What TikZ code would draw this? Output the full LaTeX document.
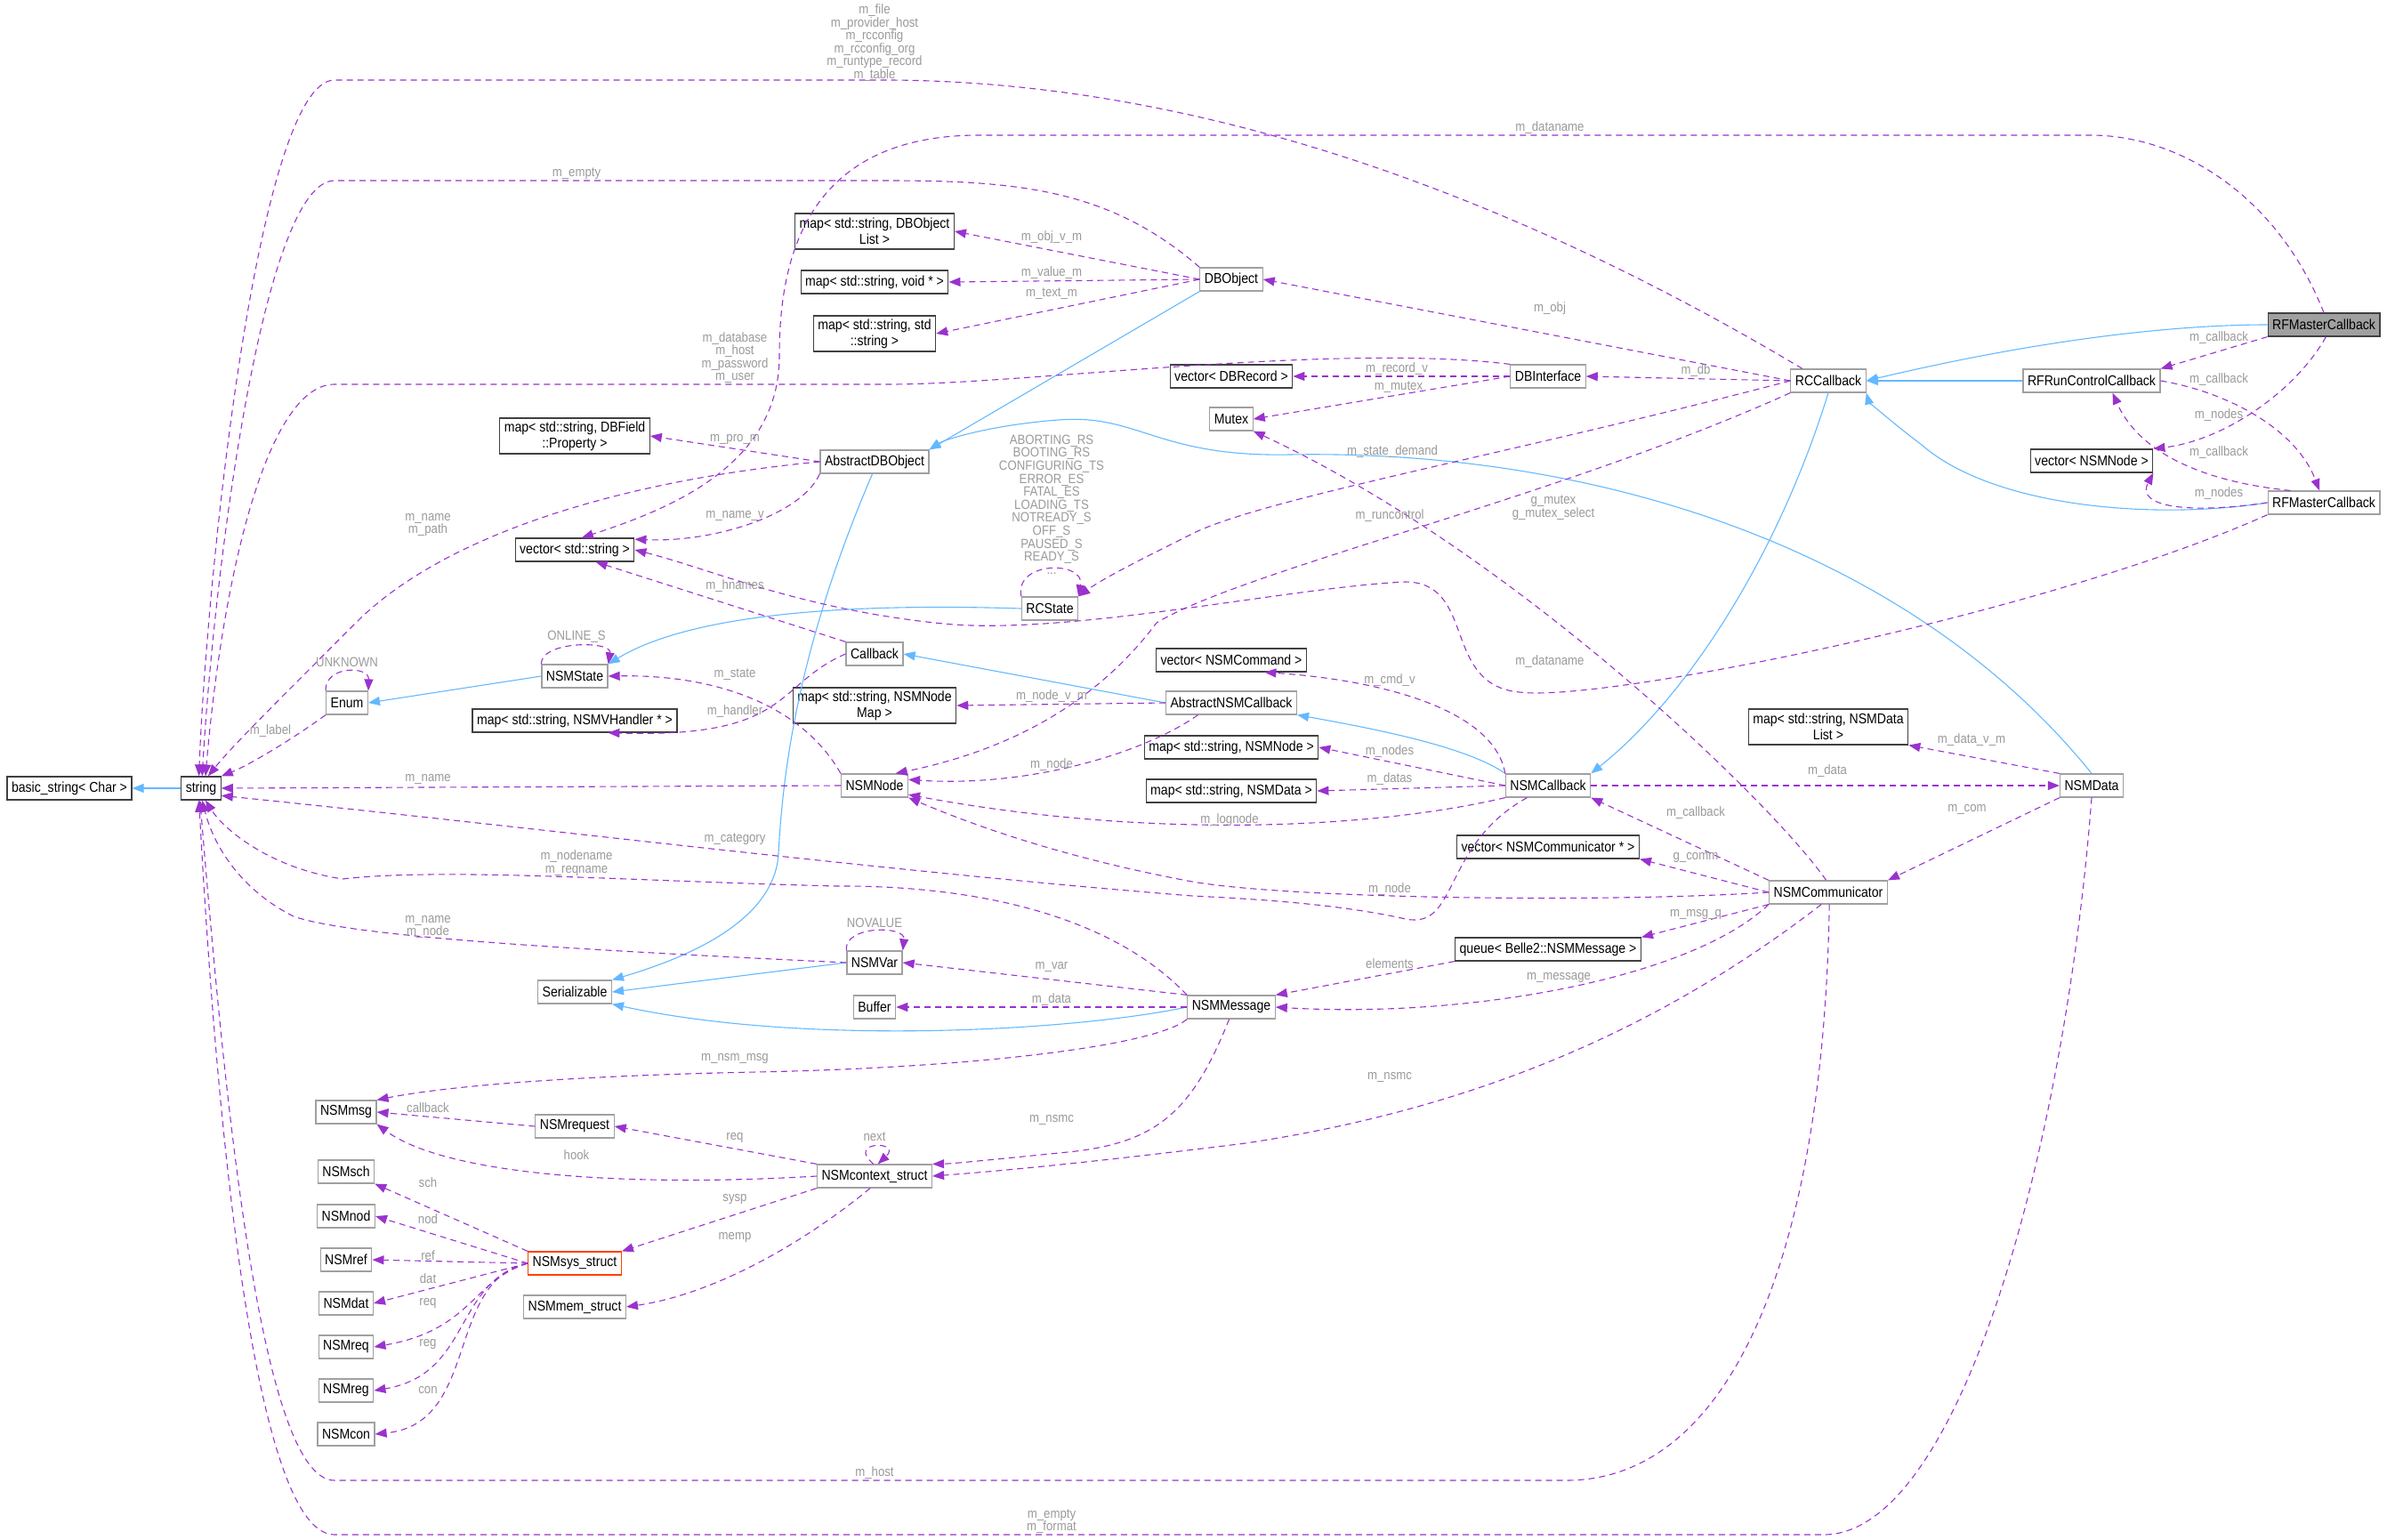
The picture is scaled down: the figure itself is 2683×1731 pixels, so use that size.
\documentclass[tikz,border=0pt]{standalone}
\usepackage{fontspec}
\setmainfont[FakeStretch=0.88]{Liberation Sans}
\usetikzlibrary{arrows.meta}
\definecolor{dep}{HTML}{9A32CD}
\definecolor{inhc}{HTML}{63B8FF}
\definecolor{lblc}{HTML}{9A9A9A}
\definecolor{bgray}{HTML}{A0A0A0}
\definecolor{bdark}{HTML}{404040}
\begin{document}
\begin{tikzpicture}[x=1pt,y=-1pt,
 cls/.style={draw=bgray,line width=1.2pt,fill=white,inner xsep=5pt,inner ysep=0pt,minimum height=26pt,font=\fontsize{16}{18}\selectfont,align=center},
 tpl/.style={cls,draw=bdark},
 two/.style={minimum height=40pt},
 lbl/.style={text=lblc,font=\fontsize{15}{14.6}\selectfont,align=center,inner sep=0pt},
 dep/.style={draw=dep,line width=1.1pt,dash pattern=on 7pt off 5pt,-{Triangle[length=13pt,width=10pt,fill=dep]}},
 inh/.style={draw=inhc,line width=1.1pt,-{Triangle[length=13pt,width=10pt,fill=inhc]}}]
\useasboundingbox (0,0) rectangle (2683,1731);
% nodes
\node[tpl] (bs) at (78,886) {basic\_string< Char >};
\node[tpl] (str) at (226,886) {string};
\node[tpl,two] (mDBOL) at (983,260) {map< std::string, DBObject\\List >};
\node[tpl] (mvoid) at (983,317) {map< std::string, void * >};
\node[tpl,two] (mstr) at (983,375) {map< std::string, std\\::string >};
\node[tpl,two] (mdbf) at (646,490) {map< std::string, DBField\\::Property >};
\node[cls] (adbo) at (983,519) {AbstractDBObject};
\node[tpl] (vstr) at (646,618) {vector< std::string >};
\node[cls] (rcstate) at (1180,684) {RCState};
\node[cls] (nsmstate) at (646,760) {NSMState};
\node[cls] (callback) at (983,735) {Callback};
\node[cls] (enum) at (390,790) {Enum};
\node[tpl] (mvh) at (646,810) {map< std::string, NSMVHandler * >};
\node[tpl,two] (mnnm) at (983,793) {map< std::string, NSMNode\\Map >};
\node[cls] (nsmnode) at (983,883) {NSMNode};
\node[cls] (nsmvar) at (983,1082) {NSMVar};
\node[cls] (serial) at (646,1115) {Serializable};
\node[cls] (buffer) at (983,1132) {Buffer};
\node[cls] (nsmmsg) at (389,1250) {NSMmsg};
\node[cls] (nsmreq) at (646,1266) {NSMrequest};
\node[cls] (ctx) at (983,1322) {NSMcontext\_struct};
\node[cls] (sch) at (389,1317) {NSMsch};
\node[cls] (nod) at (389,1367) {NSMnod};
\node[cls] (ref) at (389,1416) {NSMref};
\node[cls] (dat) at (389,1465) {NSMdat};
\node[cls] (req) at (389,1514) {NSMreq};
\node[cls] (reg) at (389,1563) {NSMreg};
\node[cls] (con) at (389,1612) {NSMcon};
\node[cls,draw={rgb,255:red,255;green,64;blue,0}] (sys) at (646,1420) {NSMsys\_struct};
\node[cls] (mem) at (646,1469) {NSMmem\_struct};
\node[cls] (dbobj) at (1384,314) {DBObject};
\node[cls] (rccb) at (2055,428) {RCCallback};
\node[cls,fill=bgray,draw=bdark] (rfmtop) at (2612,365) {RFMasterCallback};
\node[cls] (rfrc) at (2351,428) {RFRunControlCallback};
\node[cls] (dbi) at (1740,423) {DBInterface};
\node[tpl] (vdbr) at (1384,423) {vector< DBRecord >};
\node[cls] (mutex) at (1384,471) {Mutex};
\node[tpl] (vnode) at (2351,518) {vector< NSMNode >};
\node[cls] (rfmbot) at (2612,565) {RFMasterCallback};
\node[tpl] (vcmd) at (1384,742) {vector< NSMCommand >};
\node[cls] (ansm) at (1384,790) {AbstractNSMCallback};
\node[tpl] (mnode) at (1384,840) {map< std::string, NSMNode >};
\node[tpl,two] (mndl) at (2055,817) {map< std::string, NSMData\\List >};
\node[cls] (nsmcb) at (1740,883) {NSMCallback};
\node[cls] (nsmdata) at (2351,883) {NSMData};
\node[tpl] (mndata) at (1384,889) {map< std::string, NSMData >};
\node[tpl] (vcomm) at (1740,952) {vector< NSMCommunicator * >};
\node[cls] (comm) at (2055,1003) {NSMCommunicator};
\node[tpl] (queue) at (1740,1067) {queue< Belle2::NSMMessage >};
\node[cls] (msg) at (1384,1132) {NSMMessage};
% inheritance
\draw[inh] (str) -- (bs);
\draw[inh] (nsmstate.west) -- (enum.east);
\draw[inh] (rcstate.west) .. controls (900,676) and (760,700) .. (nsmstate.north east);
\draw[inh] (adbo.-100) .. controls (900,720) and (880,860) .. (875,960) .. controls (870,1040) and (760,1080) .. (serial.north east);
\draw[inh] (dbobj.south west) -- (adbo.north east);
\draw[inh] (nsmdata.north) .. controls (2150,620) and (1800,505) .. (1450,511) .. controls (1300,514) and (1280,465) .. (1190,472) .. controls (1110,478) and (1060,495) .. (adbo.north east);
\draw[inh] (nsmvar.west) -- (serial.east);
\draw[inh] (msg.west) .. controls (1200,1160) and (900,1175) .. (serial.south east);
\draw[inh] (ansm.west) -- (callback.east);
\draw[inh] (nsmcb.north west) .. controls (1650,840) and (1550,820) .. (ansm.south east);
\draw[inh] (rccb.south) .. controls (2000,620) and (1900,780) .. (nsmcb.north east);
\draw[inh] (rfmtop.west) .. controls (2450,365) and (2300,380) .. (rccb.east);
\draw[inh] (rfrc) -- (rccb);
\draw[inh] (rfmbot.west) .. controls (2420,585) and (2240,570) .. (2160,500) .. controls (2120,470) and (2100,450) .. (rccb.south east);
% dependencies
\draw[dep] (rccb.155) .. controls (1700,220) and (1350,92) .. (1000,90) -- (376,90) .. controls (290,90) and (232,650) .. (str.100);
\draw[dep] (dbobj.north west) .. controls (1250,215) and (1150,203) .. (1000,203) -- (376,203) .. controls (295,203) and (240,650) .. (str.85);
\draw[dep] (dbi.north west) .. controls (1500,385) and (1150,432) .. (1000,432) -- (376,432) .. controls (300,432) and (250,650) .. (str.70);
\draw[dep] (rfmtop.north) .. controls (2560,220) and (2450,152) .. (2350,152) -- (1100,152) .. controls (900,152) and (876,300) .. (876,400) .. controls (876,520) and (760,570) .. (vstr.60);
\draw[dep] (dbobj.west) -- (mDBOL.east);
\draw[dep] (dbobj.west) -- (mvoid.east);
\draw[dep] (dbobj.west) -- (mstr.east);
\draw[dep] (rccb.west) -- (dbobj.east);
\draw[dep] (rccb.west) -- (dbi.east);
\draw[dep] (dbi.west) -- (vdbr.east);
\draw[dep] (dbi.west) -- (mutex.east);
\draw[dep] (rccb.west) .. controls (1700,510) and (1420,560) .. (1340,600) .. controls (1280,630) and (1240,650) .. (rcstate.north east);
\draw[dep] (rccb.south west) .. controls (1750,560) and (1400,640) .. (1300,700) .. controls (1240,780) and (1150,840) .. (nsmnode.30);
\draw[dep] (rfmbot.south west) .. controls (2300,690) and (1800,790) .. (1708,778) .. controls (1620,770) and (1660,655) .. (1580,654) .. controls (1450,660) and (1200,715) .. (1060,701) .. controls (900,685) and (800,640) .. (vstr.east);
\draw[dep] (adbo.west) -- (mdbf.east);
\draw[dep] (adbo.west) .. controls (700,540) and (500,600) .. (400,700) .. controls (300,800) and (260,840) .. (str.60);
\draw[dep] (adbo.south west) .. controls (900,580) and (800,610) .. (vstr.10);
\draw[dep] (callback.north west) -- (vstr.-30);
\draw[dep] (rcstate.north west) .. controls (1140,630) and (1220,630) .. (rcstate.north east);
\draw[dep] (nsmstate.north west) .. controls (608,720) and (688,720) .. (nsmstate.north east);
\draw[dep] (enum.north west) .. controls (365,748) and (415,748) .. (enum.north east);
\draw[dep] (nsmvar.north west) .. controls (948,1040) and (1018,1040) .. (nsmvar.north east);
\draw[dep] (ctx.95) .. controls (950,1282) and (1015,1282) .. (ctx.75);
\draw[dep] (enum.south west) .. controls (330,830) and (280,860) .. (str.north east);
\draw[dep] (nsmnode.north west) .. controls (900,790) and (800,758) .. (nsmstate.east);
\draw[dep] (callback.west) .. controls (870,770) and (890,830) .. (mvh.-20);
\draw[dep] (ansm.west) -- (mnnm.east);
\draw[dep] (ansm.-160) .. controls (1280,850) and (1150,885) .. (nsmnode.10);
\draw[dep] (nsmnode.west) -- (str.east);
\draw[dep] (nsmcb.north west) .. controls (1680,800) and (1560,765) .. (vcmd.-20);
\draw[dep] (nsmcb.west) -- (mnode.east);
\draw[dep] (nsmcb.west) -- (mndata.east);
\draw[dep] (nsmcb.south west) .. controls (1550,930) and (1300,945) .. (nsmnode.-15);
\draw[dep] (nsmcb.east) -- (nsmdata.west);
\draw[dep] (nsmcb.-150) .. controls (1620,950) and (1640,1045) .. (1580,1033) .. controls (1500,1015) and (1400,1010) .. (1340,1007) .. controls (1000,980) and (600,930) .. (str.-20);
\draw[dep] (comm.west) .. controls (1800,1015) and (1450,1010) .. (1340,991) .. controls (1200,965) and (1100,930) .. (nsmnode.south east);
\draw[dep] (comm.north west) -- (nsmcb.south east);
\draw[dep] (comm.west) -- (vcomm.south east);
\draw[dep] (comm.south west) -- (queue.north east);
\draw[dep] (queue.south west) -- (msg.north east);
\draw[dep] (comm.south west) .. controls (1900,1100) and (1650,1145) .. (msg.east);
\draw[dep] (comm.-120) .. controls (1900,1130) and (1700,1240) .. (1400,1285) .. controls (1200,1310) and (1100,1318) .. (ctx.east);
\draw[dep] (comm.100) .. controls (1990,900) and (1700,620) .. (mutex.south east);
\draw[dep] (comm.-85) .. controls (2050,1400) and (1950,1664) .. (1760,1664) -- (376,1664) .. controls (290,1664) and (250,1200) .. (str.-95);
\draw[dep] (nsmdata.south) .. controls (2320,1300) and (2200,1725) .. (2050,1725) -- (376,1725) .. controls (280,1725) and (240,1200) .. (str.-100);
\draw[dep] (nsmdata.south west) -- (comm.north east);
\draw[dep] (nsmdata.north west) -- (mndl.south east);
\draw[dep] (msg.north west) .. controls (1250,1030) and (1100,995) .. (940,996) .. controls (700,990) and (500,975) .. (385,988) .. controls (300,975) and (250,930) .. (str.-70);
\draw[dep] (nsmvar.west) .. controls (700,1070) and (400,1055) .. (330,1030) .. controls (270,1000) and (240,950) .. (str.-85);
\draw[dep] (msg.north west) -- (nsmvar.east);
\draw[dep] (msg.west) -- (buffer.east);
\draw[dep] (msg.south west) .. controls (1300,1175) and (1100,1200) .. (850,1205) .. controls (600,1210) and (480,1225) .. (nsmmsg.north east);
\draw[dep] (msg.-100) .. controls (1340,1250) and (1300,1285) .. (1200,1295) .. controls (1100,1305) and (1070,1308) .. (ctx.north east);
\draw[dep] (nsmreq.west) -- (nsmmsg.east);
\draw[dep] (ctx.west) .. controls (700,1335) and (500,1320) .. (nsmmsg.south east);
\draw[dep] (ctx.north west) -- (nsmreq.east);
\draw[dep] (ctx.south west) -- (sys.north east);
\draw[dep] (ctx.-110) .. controls (900,1400) and (800,1455) .. (mem.east);
\draw[dep] (sys.north west) -- (sch.south east);
\draw[dep] (sys.west) -- (nod.east);
\draw[dep] (sys.west) -- (ref.east);
\draw[dep] (sys.west) -- (dat.east);
\draw[dep] (sys.west) .. controls (530,1440) and (530,1495) .. (req.east);
\draw[dep] (sys.west) .. controls (510,1440) and (530,1545) .. (reg.east);
\draw[dep] (sys.west) .. controls (500,1440) and (540,1600) .. (con.east);
\draw[dep] (rfmtop.south west) -- (rfrc.north east);
\draw[dep] (rfmtop.-80) .. controls (2580,440) and (2500,495) .. (vnode.north east);
\draw[dep] (rfrc.east) .. controls (2500,440) and (2580,480) .. (rfmbot.110);
\draw[dep] (rfmbot.160) .. controls (2460,540) and (2400,500) .. (rfrc.-30);
\draw[dep] (rfmbot.west) .. controls (2460,578) and (2400,570) .. (vnode.south east);
% labels
\node[lbl] (l1) at (983,48) {m\_file\\m\_provider\_host\\m\_rcconfig\\m\_rcconfig\_org\\m\_runtype\_record\\m\_table};
\node[lbl] (l2) at (1742,144) {m\_dataname};
\node[lbl] (l3) at (648,195) {m\_empty};
\node[lbl] (l4) at (1182,267) {m\_obj\_v\_m};
\node[lbl] (l5) at (1182,307) {m\_value\_m};
\node[lbl] (l6) at (1182,330) {m\_text\_m};
\node[lbl] (l7) at (826,402) {m\_database\\m\_host\\m\_password\\m\_user};
\node[lbl] (l8) at (1742,347) {m\_obj};
\node[lbl] (l9) at (1570,415) {m\_record\_v};
\node[lbl] (l10) at (1906,417) {m\_db};
\node[lbl] (l11) at (1572,435) {m\_mutex};
\node[lbl] (l12) at (2494,380) {m\_callback};
\node[lbl] (l13) at (2494,427) {m\_callback};
\node[lbl] (l14) at (2494,467) {m\_nodes};
\node[lbl] (l15) at (2494,509) {m\_callback};
\node[lbl] (l16) at (2494,555) {m\_nodes};
\node[lbl] (l17) at (826,494) {m\_pro\_m};
\node[lbl] (l18) at (481,590) {m\_name\\m\_path};
\node[lbl] (l19) at (826,580) {m\_name\_v};
\node[lbl] (l20) at (1182,567) {ABORTING\_RS\\BOOTING\_RS\\CONFIGURING\_TS\\ERROR\_ES\\FATAL\_ES\\LOADING\_TS\\NOTREADY\_S\\OFF\_S\\PAUSED\_S\\READY\_S\\...};
\node[lbl] (l21) at (1565,508) {m\_state\_demand};
\node[lbl] (l22) at (1562,580) {m\_runcontrol};
\node[lbl] (l23) at (1746,571) {g\_mutex\\g\_mutex\_select};
\node[lbl] (l24) at (826,659) {m\_hnames};
\node[lbl] (l25) at (648,716) {ONLINE\_S};
\node[lbl] (l26) at (390,744) {UNKNOWN};
\node[lbl] (l27) at (826,758) {m\_state};
\node[lbl] (l28) at (826,800) {m\_handler};
\node[lbl] (l29) at (304,822) {m\_label};
\node[lbl] (l30) at (1182,783) {m\_node\_v\_m};
\node[lbl] (l31) at (1182,860) {m\_node};
\node[lbl] (l32) at (1742,744) {m\_dataname};
\node[lbl] (l33) at (1562,765) {m\_cmd\_v};
\node[lbl] (l34) at (1562,845) {m\_nodes};
\node[lbl] (l35) at (1562,876) {m\_datas};
\node[lbl] (l36) at (2054,867) {m\_data};
\node[lbl] (l37) at (2216,832) {m\_data\_v\_m};
\node[lbl] (l38) at (1382,922) {m\_lognode};
\node[lbl] (l39) at (481,876) {m\_name};
\node[lbl] (l40) at (1906,914) {m\_callback};
\node[lbl] (l41) at (2211,910) {m\_com};
\node[lbl] (l42) at (1906,964) {g\_comm};
\node[lbl] (l43) at (826,943) {m\_category};
\node[lbl] (l44) at (648,970) {m\_nodename\\m\_reqname};
\node[lbl] (l45) at (1562,1000) {m\_node};
\node[lbl] (l46) at (1906,1028) {m\_msg\_q};
\node[lbl] (l47) at (983,1037) {NOVALUE};
\node[lbl] (l48) at (481,1042) {m\_name\\m\_node};
\node[lbl] (l49) at (1182,1087) {m\_var};
\node[lbl] (l50) at (1562,1083) {elements};
\node[lbl] (l51) at (1752,1099) {m\_message};
\node[lbl] (l52) at (1182,1124) {m\_data};
\node[lbl] (l53) at (826,1190) {m\_nsm\_msg};
\node[lbl] (l54) at (1562,1211) {m\_nsmc};
\node[lbl] (l55) at (1182,1259) {m\_nsmc};
\node[lbl] (l56) at (481,1245) {callback};
\node[lbl] (l57) at (826,1279) {req};
\node[lbl] (l58) at (648,1298) {hook};
\node[lbl] (l59) at (983,1278) {next};
\node[lbl] (l60) at (481,1329) {sch};
\node[lbl] (l61) at (481,1370) {nod};
\node[lbl] (l62) at (481,1411) {ref};
\node[lbl] (l63) at (481,1437) {dat};
\node[lbl] (l64) at (481,1465) {req};
\node[lbl] (l65) at (481,1511) {reg};
\node[lbl] (l66) at (481,1563) {con};
\node[lbl] (l67) at (826,1348) {sysp};
\node[lbl] (l68) at (826,1391) {memp};
\node[lbl] (l69) at (983,1656) {m\_host};
\node[lbl] (l70) at (1182,1710) {m\_empty\\m\_format};
\end{tikzpicture}
\end{document}
